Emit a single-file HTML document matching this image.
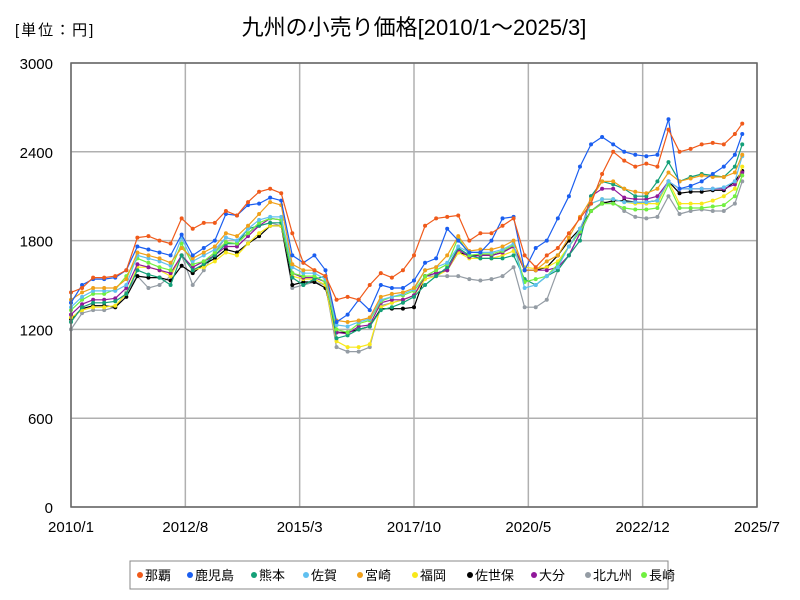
<!DOCTYPE html>
<html><head><meta charset="utf-8"><style>
body{margin:0;background:#fff;font-family:"Liberation Sans","Noto Sans CJK JP",sans-serif;}
</style></head><body>
<svg id="chart" width="800" height="600" xmlns="http://www.w3.org/2000/svg" style="display:block">
<rect width="800" height="600" fill="#fff"/>
<text x="414" y="35" font-size="22" text-anchor="middle" font-family="Liberation Sans,Noto Sans CJK JP,sans-serif">九州の小売り価格[2010/1～2025/3]</text>
<text x="15" y="35" font-size="15" letter-spacing="2" font-family="Liberation Sans,Noto Sans CJK JP,sans-serif">[単位：円]</text>
<g id="grid"></g><g id="series"></g><g id="axes"></g>
<g>
<rect x="130" y="561" width="538" height="28" fill="#fff" stroke="#888"/>
<g id="legend"></g></g>
</svg>
<script>
const names=["那覇","鹿児島","熊本","佐賀","宮崎","福岡","佐世保","大分","北九州","長崎"];
const colors=["#f05a1a","#1a5ef0","#14a078","#60c0f0","#f0a01a","#f8e81a","#000000","#90189a","#949ca4","#70f040"];
const yTicks=[0,600,1200,1800,2400,3000];
const xTickLabels=["2010/1","2012/8","2015/3","2017/10","2020/5","2022/12","2025/7"];
const naha=[1450,1480,1550,1550,1560,1600,1820,1830,1800,1780,1950,1880,1920,1920,2000,1970,2060,2130,2150,2120,1850,1650,1600,1560,1400,1420,1400,1500,1580,1550,1600,1700,1900,1950,1960,1970,1800,1850,1850,1900,1950,1700,1620,1700,1750,1850,1950,2050,2250,2400,2340,2300,2320,2300,2550,2400,2420,2450,2460,2450,2520,2590];
const kagoshima=[1380,1500,1540,1540,1550,1600,1760,1740,1720,1700,1840,1700,1750,1800,1980,1970,2040,2050,2090,2070,1700,1650,1700,1600,1250,1300,1400,1330,1500,1480,1480,1530,1650,1680,1880,1800,1720,1720,1800,1950,1960,1600,1750,1800,1950,2100,2300,2450,2500,2450,2400,2380,2370,2380,2620,2150,2170,2200,2250,2300,2380,2520];
const kumamoto=[1250,1350,1380,1380,1390,1440,1600,1570,1550,1500,1700,1600,1640,1700,1780,1780,1880,1900,1920,1920,1550,1500,1540,1560,1140,1160,1200,1220,1330,1350,1380,1420,1500,1560,1620,1750,1700,1680,1680,1680,1700,1540,1500,1560,1600,1700,1800,2100,2200,2180,2150,2100,2100,2200,2330,2200,2230,2250,2240,2230,2300,2450];
const saga=[1350,1420,1460,1460,1460,1500,1700,1680,1660,1630,1820,1660,1700,1740,1820,1800,1880,1940,1960,1960,1620,1580,1580,1540,1230,1220,1250,1270,1400,1420,1440,1470,1600,1620,1650,1760,1720,1720,1720,1740,1780,1480,1500,1560,1620,1760,1880,2050,2080,2080,2060,2060,2060,2070,2200,2150,2150,2150,2150,2160,2200,2370];
const miyazaki=[1400,1450,1480,1480,1480,1540,1720,1700,1680,1650,1750,1680,1720,1760,1850,1830,1900,1980,2060,2040,1640,1600,1600,1560,1260,1250,1260,1280,1420,1440,1450,1480,1600,1620,1700,1830,1730,1740,1740,1760,1800,1600,1600,1660,1700,1820,1960,2080,2200,2200,2150,2130,2120,2150,2260,2200,2220,2240,2230,2230,2260,2380];
const fukuoka=[1280,1330,1350,1350,1360,1440,1620,1620,1600,1560,1700,1600,1620,1660,1720,1700,1780,1850,1900,1900,1560,1540,1540,1500,1120,1080,1080,1100,1350,1380,1400,1430,1540,1560,1600,1720,1680,1680,1680,1700,1730,1620,1610,1620,1660,1760,1880,2050,2080,2080,2060,2050,2050,2050,2200,2050,2050,2050,2070,2100,2150,2300];
const sasebo=[1270,1340,1360,1360,1350,1420,1560,1550,1550,1530,1630,1580,1640,1680,1740,1720,1780,1830,1900,1900,1500,1520,1520,1480,1180,1180,1200,1220,1340,1340,1340,1350,1560,1580,1600,1720,1700,1700,1700,1720,1760,1600,1600,1620,1700,1800,1880,2000,2050,2070,2070,2060,2060,2070,2200,2120,2130,2130,2140,2140,2200,2270];
const oita=[1300,1370,1400,1400,1410,1480,1640,1620,1600,1580,1700,1620,1660,1700,1760,1760,1830,1900,1950,1940,1580,1550,1550,1520,1180,1170,1220,1230,1380,1400,1400,1430,1560,1580,1600,1740,1690,1700,1700,1720,1760,1600,1600,1600,1620,1700,1850,2100,2150,2150,2090,2080,2080,2100,2200,2150,2150,2150,2150,2150,2180,2260];
const kitakyushu=[1200,1310,1330,1330,1350,1450,1560,1480,1500,1560,1700,1500,1600,1720,1820,1800,1850,1900,1920,1900,1480,1500,1520,1500,1080,1050,1050,1080,1360,1380,1400,1430,1560,1560,1560,1560,1540,1530,1540,1560,1620,1350,1350,1400,1600,1700,1850,2000,2060,2060,2000,1960,1950,1960,2100,1980,2000,2010,2000,2000,2050,2200];
const nagasaki=[1330,1400,1440,1440,1470,1560,1680,1650,1620,1600,1780,1640,1660,1720,1790,1780,1850,1920,1950,1940,1580,1560,1560,1520,1200,1180,1240,1260,1390,1420,1430,1460,1560,1600,1640,1820,1700,1710,1710,1730,1770,1520,1540,1560,1640,1760,1860,2000,2050,2050,2020,2010,2010,2020,2180,2020,2020,2020,2030,2040,2100,2240];
const seriesData=[naha,kagoshima,kumamoto,saga,miyazaki,fukuoka,sasebo,oita,kitakyushu,nagasaki];
const dates=[];
for(let y=2010;y<=2025;y++){for(const m of [1,4,7,10]){if(y===2025&&m>1)break;dates.push(y+"/"+m);}}
dates.push("2025/3");

const L=71,R=757,T=63,B=507;
const ymax=3000;
function monthIdx(s){const [y,m]=s.split("/").map(Number);return (y-2010)*12+(m-1);}
const totalM=monthIdx("2025/7");
function xs(s){return L+monthIdx(s)/totalM*(R-L);}
function ys(v){return B-v/ymax*(B-T);}
const NS="http://www.w3.org/2000/svg";
function mk(tag,attrs,parent){const e=document.createElementNS(NS,tag);for(const k in attrs)e.setAttribute(k,attrs[k]);parent.appendChild(e);return e;}
const grid=document.getElementById("grid"),axes=document.getElementById("axes"),sg=document.getElementById("series"),lg=document.getElementById("legend");
yTicks.forEach(v=>{
  const ln=mk("line",{x1:L,x2:R,y1:ys(v),y2:ys(v),stroke:"#b0b0b0","stroke-width":1.5},grid);
  
  
  const t=mk("text",{x:53,y:ys(v)+6,"font-size":15,"text-anchor":"end"},axes);
  
  
  t.textContent=v;
});
xTickLabels.forEach(s=>{
  const ln=mk("line",{x1:xs(s),x2:xs(s),y1:T,y2:B,stroke:"#b0b0b0","stroke-width":1.5},grid);
  
  
  const t=mk("text",{x:xs(s),y:532,"font-size":15,"text-anchor":"middle"},axes);
  
  
  t.textContent=s;
});
const frame=mk("rect",{x:L,y:T,width:R-L,height:B-T,fill:"none",stroke:"#666","stroke-width":1.5},axes);


const order=[8,6,5,7,2,9,3,4,1,0];
order.forEach(i=>{
  const g=mk("g",{},sg);
  
  
  const d=seriesData[i];
  const pts=d.map((v,j)=>xs(dates[j]).toFixed(1)+","+ys(v).toFixed(1)).join(" ");
  const pl=mk("polyline",{points:pts,fill:"none",stroke:colors[i],"stroke-width":1.2},g);
  
  
  d.forEach((v,j)=>{
    const c=mk("circle",{cx:xs(dates[j]),cy:ys(v),r:2.0,fill:colors[i]},g);
    
    
  });
});
const lx=[136,186,250,302,356,411,466,530,584,640];
names.forEach((n,i)=>{
  const g=mk("g",{},lg);
  
  
  mk("circle",{cx:lx[i]+4,cy:575,r:3,fill:colors[i]},g);
  const t=mk("text",{x:lx[i]+9,y:580,"font-size":13},g);
  t.textContent=n;
});
</script>
</body></html>
